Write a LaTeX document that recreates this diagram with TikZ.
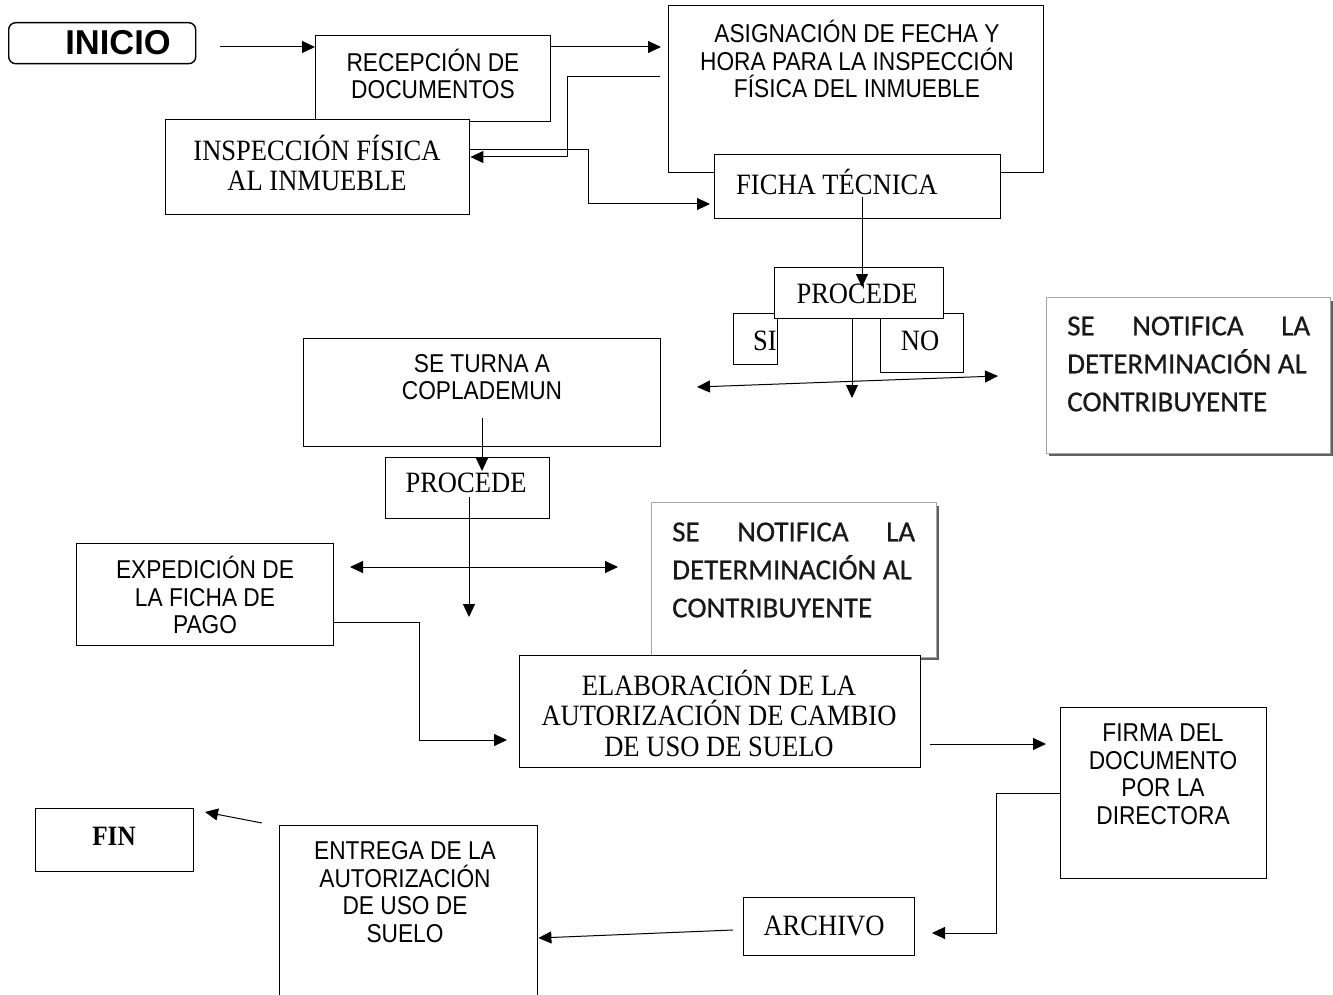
\documentclass[tikz,border=0pt]{standalone}
\usepackage{fontspec}
\setmainfont{Liberation Serif}
\setsansfont{Liberation Sans}
\newfontfamily\calib{Carlito}[FakeBold=0.6]
\newfontfamily\nsans{Liberation Sans}[FakeStretch=0.88]
\newfontfamily\nserif{Liberation Serif}[FakeStretch=0.9]
\usetikzlibrary{arrows.meta,calc}
\begin{document}
\begin{tikzpicture}[x=1pt,y=-1pt,
 box/.style={draw,fill=white,line width=1.4pt,inner sep=0pt,anchor=north west},
 sbox/.style={draw=gray!70,fill=white,line width=1.2pt,inner sep=0pt,anchor=north west},
 shade/.style={draw=gray!75!black,line width=2pt},
 atxt/.style={font=\nsans\fontsize{25.8}{27.5}\selectfont,align=center,inner sep=0pt},
 ttxt/.style={font=\nserif\fontsize{29.5}{30.5}\selectfont,align=center,inner sep=0pt},
 ctxt/.style={font=\calib\fontsize{29}{38}\selectfont,align=left,inner sep=0pt,anchor=west,text=black!90},
 arr/.style={line width=1pt,-{Triangle[length=13pt,width=12pt]}},
 darr/.style={line width=1pt,{Triangle[length=13pt,width=12pt]}-{Triangle[length=13pt,width=12pt]}},
]
\useasboundingbox (0,0) rectangle (1333,995);

% ---------- boxes ----------
\node[box,rounded corners=7pt,minimum width=187pt,minimum height=41pt] (inicio) at (8,22) {};
\node[font=\sffamily\bfseries\fontsize{34.5}{34}\selectfont,inner sep=0pt] (inicioT) at (118,43) {INICIO};

\node[box,minimum width=235pt,minimum height=86pt] (rec) at (315,35) {};
\node[atxt] (recT) at (433,74) {RECEPCIÓN DE\\DOCUMENTOS};

\node[box,minimum width=375pt,minimum height=167pt] (asig) at (668,5) {};
\node[atxt] (asigT) at (857,59) {ASIGNACIÓN DE FECHA Y\\HORA PARA LA INSPECCIÓN\\FÍSICA DEL INMUEBLE};

\node[box,minimum width=304pt,minimum height=95pt] (insp) at (165,119) {};
\node[ttxt] (inspT) at (317,163) {INSPECCIÓN FÍSICA\\AL INMUEBLE};

\node[box,minimum width=286pt,minimum height=64pt] (ficha) at (714,154) {};
\node[ttxt,anchor=west] (fichaT) at (736,182) {FICHA TÉCNICA};

\node[box,minimum width=44pt,minimum height=51pt] (si) at (733,313) {};
\node[ttxt] (siT) at (765,341) {SI};
\node[box,minimum width=83pt,minimum height=59pt] (no) at (880,313) {};
\node[ttxt] (noT) at (920,341) {NO};
\node[box,minimum width=169pt,minimum height=51pt] (proc1) at (774,267) {};
\node[ttxt] (proc1T) at (857,294) {PROCEDE};

\node[sbox,minimum width=284pt,minimum height=156pt] (not1) at (1046,297) {};
\draw[shade] ($(not1.north east)+(1,4)$) -- ($(not1.south east)+(1,1)$) -- ($(not1.south west)+(3,1)$);
\node[ctxt] (not1T) at (1067,364) {\makebox[243pt][s]{SE\hfill NOTIFICA\hfill LA}\\DETERMINACIÓN AL\\CONTRIBUYENTE};

\node[box,minimum width=357pt,minimum height=108pt] (turna) at (303,338) {};
\node[atxt] (turnaT) at (482,377) {SE TURNA A\\COPLADEMUN};

\node[box,minimum width=164pt,minimum height=61pt] (proc2) at (385,457) {};
\node[ttxt] (proc2T) at (466,483) {PROCEDE};

\node[sbox,minimum width=285pt,minimum height=155pt] (not2) at (651,502) {};
\draw[shade] ($(not2.north east)+(1,4)$) -- ($(not2.south east)+(1,1)$) -- ($(not2.south west)+(3,1)$);
\node[ctxt] (not2T) at (672,570) {\makebox[243pt][s]{SE\hfill NOTIFICA\hfill LA}\\DETERMINACIÓN AL\\CONTRIBUYENTE};

\node[box,minimum width=257pt,minimum height=102pt] (exped) at (76,543) {};
\node[atxt] (expedT) at (205,595) {EXPEDICIÓN DE\\LA FICHA DE\\PAGO};

\node[box,minimum width=401pt,minimum height=112pt] (elab) at (519,655) {};
\node[ttxt] (elabT) at (719,713) {ELABORACIÓN DE LA\\AUTORIZACIÓN DE CAMBIO\\DE USO DE SUELO};

\node[box,minimum width=206pt,minimum height=171pt] (firma) at (1060,707) {};
\node[atxt] (firmaT) at (1163,774) {FIRMA DEL\\DOCUMENTO\\POR LA\\DIRECTORA};

\node[box,minimum width=171pt,minimum height=58pt] (archivo) at (743,897) {};
\node[ttxt] (archivoT) at (824,926) {ARCHIVO};

\node[box,minimum width=258pt,minimum height=178pt] (entrega) at (279,825) {};
\node[atxt] (entregaT) at (405,892) {ENTREGA DE LA\\AUTORIZACIÓN\\DE USO DE\\SUELO};

\node[box,minimum width=158pt,minimum height=63pt] (fin) at (35,808) {};
\node[font=\nserif\bfseries\fontsize{28}{28}\selectfont,inner sep=0pt] (finT) at (114,836) {FIN};

% ---------- free ends ----------
\coordinate (s1) at (220,47);
\coordinate (e2) at (661,47);
\coordinate (s3) at (660,77);
\coordinate (s5) at (862,197);
\coordinate (e5) at (862,287);
\coordinate (e6) at (852,398);
\coordinate (dL1) at (697,387);
\coordinate (dR1) at (998,376);
\coordinate (s8) at (482,418);
\coordinate (e8) at (482,471);
\coordinate (s9) at (469,497);
\coordinate (e9) at (469,617);
\coordinate (dL2) at (350,567);
\coordinate (dR2) at (618,567);
\coordinate (s12) at (930,744);
\coordinate (e12) at (1046,744);
\coordinate (e13) at (932,933);
\coordinate (s14) at (733,930);
\coordinate (s15) at (262,823);
\coordinate (e15) at (205,812);

% ---------- connectors ----------
\draw[arr] (s1) -- (rec.west |- s1);
\draw[arr] (rec.east |- e2) -- (e2);
\draw[arr] (s3) -- (567,77) -- (567,157) -- (insp.east |- 0,157);
\draw[arr] (insp.east |- 0,150) -- (588,150) -- (588,204) -- ($(ficha.west |- 0,204)+(-4,0)$);
\draw[arr] (s5) -- (e5);
\draw[arr] (proc1.south -| e6) -- (e6);
\draw[darr] (dL1) -- (dR1);
\draw[arr] (s8) -- (e8);
\draw[arr] (s9) -- (e9);
\draw[darr] (dL2) -- (dR2);
\draw[arr] (exped.east |- 0,622) -- (419,622) -- (419,740) -- ($(elab.west |- 0,740)+(-12,0)$);
\draw[arr] (s12) -- (e12);
\draw[arr] (firma.west |- 0,793) -- (996,793) -- (996,933) -- (e13);
\draw[arr] (s14) -- (entrega.east |- 0,938);
\draw[arr] (s15) -- (e15);
\end{tikzpicture}
\end{document}
